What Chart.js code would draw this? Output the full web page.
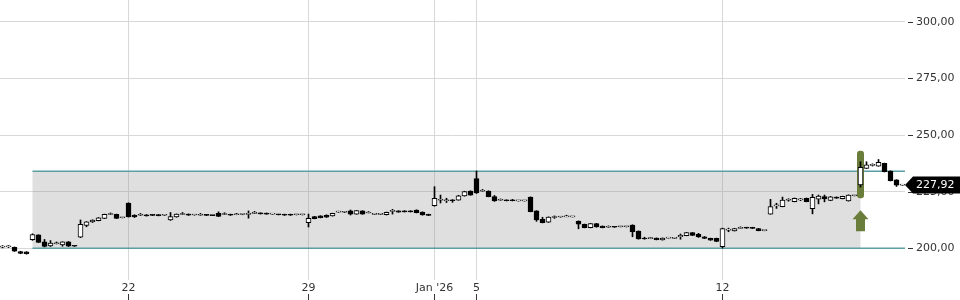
<!DOCTYPE html>
<html><head><meta charset="utf-8">
<style>html,body{margin:0;padding:0;background:#fff;}canvas{display:block;}</style>
<script src="https://cdn.jsdelivr.net/npm/chart.js@4.4.1/dist/chart.umd.min.js"></script>
</head><body>
<canvas id="c" width="960" height="300"></canvas>
<script>
const opens = [
200.5,200.6,200.4,198.6,198.4,203.8,205.9,202.9,201.0,202.0,
201.5,202.9,201.0,204.9,210.1,211.6,212.2,213.2,214.9,215.0,
213.5,220.0,214.7,214.6,214.8,214.6,214.8,214.6,212.5,213.8,
214.9,215.1,214.7,214.6,214.9,214.5,215.4,214.9,215.0,214.8,
214.9,215.0,215.4,215.6,215.5,215.1,214.9,215.0,215.0,214.8,
214.8,211.3,214.0,214.3,214.6,214.3,216.0,215.9,216.5,215.1,
216.5,215.6,215.0,215.0,214.8,216.3,216.5,216.5,216.5,216.9,
216.0,215.0,218.8,221.2,221.0,221.4,221.3,223.1,225.3,230.8,
225.2,225.3,222.8,221.2,221.3,221.4,220.9,220.9,222.6,216.5,
212.8,211.5,213.6,213.8,213.9,213.9,212.0,210.6,209.1,210.9,
209.8,209.3,209.5,209.5,209.5,210.3,207.6,204.4,204.3,204.5,
203.7,204.5,204.4,205.1,205.6,206.9,206.2,205.1,204.4,204.4,
200.7,208.0,207.7,208.8,209.2,209.2,208.7,207.8,215.1,218.7,
218.4,221.2,220.6,221.4,222.1,217.5,221.7,222.8,221.1,222.6,
221.9,220.9,223.2,228.0,235.3,236.6,236.3,237.5,234.1,230.2,
227.9];
const highs = [
201.2,201.2,200.6,198.7,198.5,206.4,206.0,203.9,203.4,202.8,
202.9,203.0,201.1,212.5,211.8,212.6,213.6,215.1,215.6,215.1,
213.6,220.1,214.8,215.4,214.9,214.8,214.9,214.7,215.8,215.2,
215.8,215.2,214.8,215.4,215.0,214.6,216.1,215.7,215.1,215.4,
215.0,216.5,216.3,215.7,215.6,215.2,215.0,215.1,215.1,214.9,
214.9,215.1,214.1,214.4,214.8,215.5,216.4,216.3,216.9,216.7,
216.6,216.2,215.1,215.1,216.0,217.2,216.6,216.6,216.6,217.0,
216.1,215.1,227.2,223.5,222.1,221.5,223.4,225.2,225.4,234.1,
226.0,225.4,223.3,221.8,221.4,221.6,221.0,221.0,222.7,216.6,
213.7,213.9,214.3,213.9,214.6,214.0,212.1,210.7,211.0,211.0,
209.9,209.9,209.6,209.6,209.6,210.4,207.7,204.9,204.8,204.6,
204.6,204.8,204.5,206.3,207.0,207.0,206.6,205.2,204.5,204.5,
208.9,208.9,208.8,209.5,209.3,209.3,208.8,207.9,221.6,219.9,
222.6,221.9,222.2,222.0,222.2,223.8,223.5,223.5,222.9,222.7,
223.0,223.6,223.3,238.2,238.2,237.3,239.2,237.6,234.2,230.3,
228.0];
const lows = [
200.2,200.3,198.6,197.6,197.4,203.5,202.5,200.6,200.8,201.9,
200.9,200.8,200.8,204.7,209.5,211.4,212.1,213.1,214.9,213.1,
213.4,213.8,213.6,214.5,214.2,214.4,214.3,214.5,212.3,213.7,
214.9,214.5,214.6,214.6,214.4,214.4,214.0,214.9,214.5,214.8,
214.8,213.3,215.3,215.1,215.0,215.0,214.7,214.5,214.5,214.7,
214.7,209.4,213.0,213.4,213.6,214.2,215.9,215.8,214.7,215.0,
215.0,215.6,214.9,214.9,214.7,215.1,215.9,216.0,216.0,215.6,
214.6,214.4,218.6,220.0,220.2,220.3,221.2,223.0,223.4,224.2,
225.2,222.7,220.7,221.2,220.9,220.9,220.8,220.8,216.1,211.9,
211.2,211.4,213.2,213.7,213.9,213.8,208.6,209.0,209.0,209.3,
209.0,209.3,209.2,209.4,209.4,205.1,204.0,204.0,204.2,203.7,
203.6,204.5,204.3,204.0,205.5,205.6,204.8,204.3,203.5,202.9,
200.1,207.3,207.6,208.8,208.8,208.7,207.7,207.7,215.0,217.6,
218.3,220.8,220.5,221.0,220.5,215.2,219.6,220.5,221.0,222.0,
221.8,220.8,223.1,227.0,235.2,236.3,236.2,233.7,229.7,227.3,
227.8];
const closes = [
200.9,200.9,198.7,197.7,197.6,206.1,202.6,200.8,202.3,202.2,
202.8,200.9,200.9,210.6,211.7,212.5,213.5,215.0,215.0,213.2,
213.5,213.9,213.8,214.7,214.3,214.5,214.4,214.6,214.0,215.1,
215.1,214.6,214.7,214.8,214.5,214.4,214.1,215.0,214.6,214.9,
214.9,215.3,215.5,215.2,215.1,215.1,214.8,214.6,214.6,214.8,
214.8,213.2,213.1,213.5,213.7,215.4,216.1,215.9,215.1,216.6,
215.1,215.7,215.0,215.0,215.9,216.5,216.0,216.1,216.1,215.7,
214.7,214.5,222.1,221.4,221.1,221.0,223.2,225.0,223.5,224.5,
225.4,222.8,220.9,221.3,221.0,221.0,220.9,220.9,216.2,212.5,
211.3,213.8,213.7,213.8,214.0,213.9,210.6,209.1,210.9,209.4,
209.1,209.4,209.3,209.5,209.5,207.3,204.1,204.1,204.4,203.8,
204.5,204.6,204.4,205.7,206.9,205.7,205.0,204.4,203.6,203.0,
208.7,208.2,208.7,209.0,208.9,208.8,207.8,207.8,218.4,218.9,
221.3,221.3,222.1,221.5,220.6,222.5,223.1,221.8,222.7,222.1,
222.9,223.5,223.2,235.7,236.8,236.8,238.0,233.8,229.8,227.9,
227.92];

const xTickIndex = [21, 51, 72, 79, 120];
const xTickLabels = ['22', '29', "Jan '26", '5', '12'];
const yTickValues = [200, 225, 250, 275, 300];
const zoneStart = 5, zoneEnd = 143, zoneLow = 200, zoneHigh = 234;
const signalIndex = 143;
const lastPrice = 227.92;

const idx = opens.map((_, i) => i);
const bodies = idx.map(i => ({x: i, y: [Math.min(opens[i], closes[i]), Math.max(opens[i], closes[i])]}));
const wicks = idx.map(i => ({x: i, y: [lows[i], highs[i]]}));
const bodyFill = idx.map(i => closes[i] >= opens[i] ? '#ffffff' : '#000000');

const fmt = v => v.toFixed(2).replace('.', ',');

const overlay = {
  id: 'overlay',
  beforeDatasetsDraw(chart) {
    const {ctx, chartArea, scales: {x, y}} = chart;
    const x0 = x.getPixelForValue(zoneStart), x1 = x.getPixelForValue(zoneEnd);
    const yt = y.getPixelForValue(zoneHigh), yb = y.getPixelForValue(zoneLow);
    ctx.save();
    ctx.fillStyle = 'rgba(140,140,140,0.28)';
    ctx.fillRect(x0, yt, x1 - x0, yb - yt);
    ctx.strokeStyle = '#5b9ea4';
    ctx.lineWidth = 1.5;
    ctx.beginPath();
    ctx.moveTo(x0, yt); ctx.lineTo(chartArea.right, yt);
    ctx.moveTo(x0, yb); ctx.lineTo(chartArea.right, yb);
    ctx.stroke();
    const sx = x.getPixelForValue(signalIndex);
    const sTop = y.getPixelForValue(highs[signalIndex]) - 11;
    const sBot = y.getPixelForValue(lows[signalIndex]) + 11;
    ctx.fillStyle = '#6b7d3a';
    ctx.beginPath();
    ctx.roundRect(sx - 3.5, sTop, 7, sBot - sTop, 3);
    ctx.fill();
    const aTop = sBot + 12;
    ctx.beginPath();
    ctx.moveTo(sx, aTop);
    ctx.lineTo(sx + 8, aTop + 9);
    ctx.lineTo(sx + 4.5, aTop + 9);
    ctx.lineTo(sx + 4.5, aTop + 21);
    ctx.lineTo(sx - 4.5, aTop + 21);
    ctx.lineTo(sx - 4.5, aTop + 9);
    ctx.lineTo(sx - 8, aTop + 9);
    ctx.closePath();
    ctx.fill();
    ctx.restore();
  },
  afterDraw(chart) {
    const {ctx, chartArea, scales: {x, y}} = chart;
    ctx.save();
    ctx.strokeStyle = '#333';
    ctx.lineWidth = 1;
    ctx.beginPath();
    yTickValues.forEach(v => {
      const py = Math.round(y.getPixelForValue(v)) + 0.5;
      ctx.moveTo(chartArea.right + 3, py); ctx.lineTo(chartArea.right + 8, py);
    });
    xTickIndex.forEach(v => {
      const px = Math.round(x.getPixelForValue(v) - 0.5) + 0.5;
      ctx.moveTo(px, 294); ctx.lineTo(px, 300);
    });
    ctx.stroke();
    const py = y.getPixelForValue(lastPrice);
    const left = chartArea.right;
    ctx.fillStyle = '#000';
    ctx.beginPath();
    ctx.moveTo(left, py);
    ctx.lineTo(left + 8, py - 8.5);
    ctx.lineTo(960, py - 8.5);
    ctx.lineTo(960, py + 8.5);
    ctx.lineTo(left + 8, py + 8.5);
    ctx.closePath();
    ctx.fill();
    ctx.fillStyle = '#fff';
    ctx.font = '11px "DejaVu Sans"';
    ctx.textBaseline = 'middle';
    ctx.textAlign = 'left';
    ctx.fillText(fmt(lastPrice), left + 11, py + 0.5);
    ctx.restore();
  }
};

Chart.defaults.font.family = '"DejaVu Sans", sans-serif';
Chart.defaults.font.size = 11;
Chart.defaults.color = '#333';

new Chart(document.getElementById('c'), {
  type: 'bar',
  data: {
    datasets: [
      {data: bodies, backgroundColor: bodyFill, borderColor: '#000', borderWidth: 1,
       borderSkipped: false, barThickness: 5, minBarLength: 1, grouped: false},
      {data: wicks, backgroundColor: '#000', borderWidth: 0, barThickness: 1, grouped: false}
    ]
  },
  options: {
    responsive: false,
    animation: false,
    devicePixelRatio: 1,
    layout: {padding: 0},
    plugins: {legend: {display: false}, tooltip: {enabled: false}},
    scales: {
      x: {
        type: 'linear',
        offset: false,
        min: -2.5 / 6,
        max: -2.5 / 6 + 905 / 6,
        afterBuildTicks: s => { s.ticks = xTickIndex.map(v => ({value: v})); },
        afterFit: s => { s.height = 20; s.paddingLeft = 0; s.paddingRight = 0; },
        grid: {offset: false, color: '#d8d8d8', drawTicks: false},
        border: {display: false},
        ticks: {
          autoSkip: false, maxRotation: 0, padding: 2,
          callback: v => { const k = xTickIndex.indexOf(v); return k >= 0 ? xTickLabels[k] : ''; }
        }
      },
      y: {
        position: 'right',
        min: 186.0,
        max: 309.62,
        afterBuildTicks: s => { s.ticks = yTickValues.map(v => ({value: v})); },
        afterFit: s => { s.width = 55; s.paddingTop = 0; s.paddingBottom = 0; },
        grid: {color: '#d8d8d8', drawTicks: false},
        border: {display: false},
        ticks: {padding: 11, callback: v => fmt(v)}
      }
    }
  },
  plugins: [overlay]
});
</script>
</body></html>
